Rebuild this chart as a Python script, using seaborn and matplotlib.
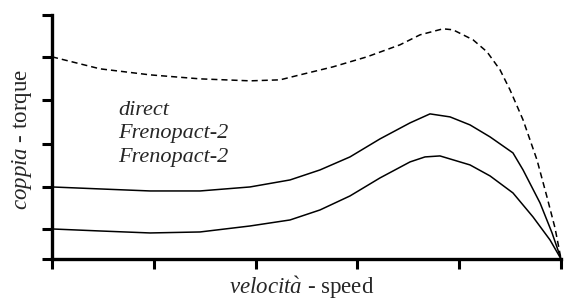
import numpy as np
import pandas as pd
import seaborn as sns
import matplotlib.pyplot as plt

# === Curve data (speed in tick units 0..5, torque in tick units) ===
speed_direct = [0, 0.472, 0.963, 1.454, 1.945, 2.240, 2.436, 2.760, 3.094, 3.418, 3.615, 3.841,
                3.939, 4.136, 4.273, 4.401, 4.499, 4.627, 4.764, 4.862, 4.941, 5.0]
torque_direct = [4.698, 4.419, 4.279, 4.186, 4.140, 4.163, 4.279, 4.465, 4.698, 4.977, 5.209, 5.349,
                 5.326, 5.093, 4.814, 4.395, 3.930, 3.233, 2.302, 1.442, 0.721, 0.0]

speed_fp_hi = [0, 0.472, 0.963, 1.454, 1.945, 2.338, 2.633, 2.927, 3.222, 3.517, 3.713, 3.910,
               4.106, 4.303, 4.528, 4.627, 4.794, 4.912, 5.0]
torque_fp_hi = [1.674, 1.628, 1.581, 1.581, 1.674, 1.837, 2.070, 2.372, 2.791, 3.163, 3.372, 3.302,
                3.116, 2.837, 2.465, 2.070, 1.302, 0.605, 0.0]

speed_fp_lo = [0, 0.472, 0.963, 1.454, 1.945, 2.338, 2.633, 2.927, 3.222, 3.517, 3.664, 3.811,
               4.106, 4.303, 4.528, 4.725, 4.892, 5.0]
torque_fp_lo = [0.698, 0.651, 0.605, 0.628, 0.767, 0.907, 1.140, 1.465, 1.884, 2.256, 2.372, 2.395,
                2.186, 1.930, 1.535, 0.977, 0.442, 0.0]

legend_labels = ["direct", "Frenopact-2", "Frenopact-2"]
xtick_pos = [0, 1, 2, 3, 4, 5]
ytick_pos = [0, 0.7, 1.68, 2.67, 3.7, 4.7, 5.67]

# === Style ===
sns.set_style("ticks")
plt.rcParams['font.family'] = ['Liberation Serif', 'DejaVu Serif']
plt.rcParams['mathtext.fontset'] = 'custom'
plt.rcParams['mathtext.rm'] = 'Liberation Serif'
plt.rcParams['mathtext.it'] = 'Liberation Serif:italic'

fig = plt.figure(figsize=(5.72, 3.0), dpi=100)
ax = fig.add_axes([0.0909, 0.1367, 0.8899, 0.8133])

sns.lineplot(x=speed_direct, y=torque_direct, ax=ax, sort=False, color="black",
             lw=1.1, linestyle=(0, (4, 2.6)), clip_on=False)
sns.lineplot(x=speed_fp_hi, y=torque_fp_hi, ax=ax, sort=False, color="black",
             lw=1.1, clip_on=False)
sns.lineplot(x=speed_fp_lo, y=torque_fp_lo, ax=ax, sort=False, color="black",
             lw=1.1, clip_on=False)

ax.set_xlim(0, 5)
ax.set_ylim(0, 5.67)
ax.set_xticks(xtick_pos)
ax.set_yticks(ytick_pos)
ax.set_xticklabels([])
ax.set_yticklabels([])
ax.tick_params(axis="both", direction="out", length=7, width=2.2, color="black")
sns.despine(ax=ax)
for side in ["left", "bottom"]:
    ax.spines[side].set_linewidth(2.4)
    ax.spines[side].set_color("black")

# === Axis labels ===
ax.set_xlabel(r"$\mathit{velocit\`a}$ - speed", fontsize=16.5)
ax.xaxis.label.set_va("baseline")
ax.xaxis.set_label_coords(0.491, -0.143)
ax.set_ylabel(r"$\mathit{coppia}$ - torque", fontsize=16.5)
ax.yaxis.label.set_va("center")
ax.yaxis.set_label_coords(-0.059, 0.488)

# legend-like labels, no handles
for lbl, yb in zip(legend_labels, [3.35, 2.81, 2.26]):
    ax.text(0.65, yb, lbl, fontsize=16, style="italic", va="baseline", ha="left")

fig.savefig("out.png", dpi=100)
